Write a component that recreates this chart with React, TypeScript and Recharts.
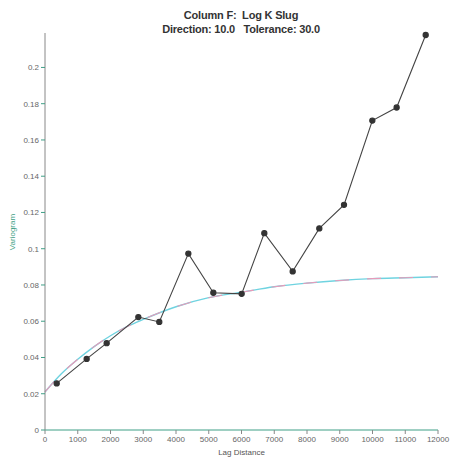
import React from 'react';
import { LineChart, Line, XAxis, YAxis } from 'recharts';

// Experimental variogram points (lag distance, semivariance)
const lags = [357, 1272, 1883, 2850, 3490, 4377, 5140, 6005, 6697, 7563, 8376, 9130, 9995, 10737, 11624];
const gammas = [0.0257, 0.0392, 0.0479, 0.0623, 0.0596, 0.0973, 0.0757, 0.0751, 0.1086, 0.0875, 0.1112, 0.1242, 0.1707, 0.1779, 0.2179];

// Fitted model curve, read at fixed lag steps
const modelLags = [0, 500, 1000, 1500, 2000, 2500, 3000, 4000, 5000, 6000, 7000, 8000, 9000, 10000, 11000, 12000];
const modelGammas = [0.021, 0.031, 0.039, 0.046, 0.052, 0.057, 0.061, 0.068, 0.073, 0.076, 0.079, 0.081, 0.0825, 0.0835, 0.084, 0.0845];

const xTicks = [0, 1000, 2000, 3000, 4000, 5000, 6000, 7000, 8000, 9000, 10000, 11000, 12000];
const yTicks = [0, 0.02, 0.04, 0.06, 0.08, 0.1, 0.12, 0.14, 0.16, 0.18, 0.2];

const points = lags.map((lag, i) => ({ lag, gamma: gammas[i] }));
const model = modelLags.map((lag, i) => ({ lag, gamma: modelGammas[i] }));

const FONT = '"Liberation Sans", Arial, sans-serif';
const TEAL = '#3f9f86';

export default function App() {
  return (
    <div style={{ position: 'absolute', left: 0, top: 0, width: 451, height: 460, background: '#fff', fontFamily: FONT }}>
      <div
        style={{
          position: 'absolute',
          left: 0,
          width: 482,
          top: 8,
          textAlign: 'center',
          fontWeight: 'bold',
          fontSize: 11,
          lineHeight: '14px',
          color: '#333',
          letterSpacing: -0.2,
        }}
      >
        <div>Column F:&nbsp; Log K Slug</div>
        <div>Direction: 10.0&nbsp;&nbsp; Tolerance: 30.0</div>
      </div>
      <div
        style={{
          position: 'absolute',
          left: 12,
          top: 232,
          transform: 'translate(-50%, -50%) rotate(-90deg)',
          fontSize: 8,
          color: TEAL,
          whiteSpace: 'nowrap',
        }}
      >
        Variogram
      </div>
      <LineChart width={451} height={460} margin={{ top: 33, right: 13, bottom: 10, left: 10 }}>
        <XAxis
          type="number"
          dataKey="lag"
          domain={[0, 12000]}
          ticks={xTicks}
          height={20}
          stroke={TEAL}
          tickSize={4}
          tick={{ fontSize: 8, fill: '#666', fontFamily: FONT }}
          tickLine={{ stroke: '#888' }}
          label={{ value: 'Lag Distance', position: 'insideBottom', offset: -5, style: { fontSize: 8, fill: '#555', fontFamily: FONT } }}
        />
        <YAxis
          type="number"
          dataKey="gamma"
          domain={[0, 0.219]}
          ticks={yTicks}
          width={35}
          stroke="#888"
          tickSize={4}
          tick={{ fontSize: 8, fill: '#666', fontFamily: FONT }}
          tickLine={{ stroke: TEAL }}
        />
        <Line
          data={model}
          dataKey="gamma"
          type="monotone"
          stroke="#6fd3e0"
          strokeWidth={1.4}
          dot={false}
          isAnimationActive={false}
        />
        <Line
          data={model}
          dataKey="gamma"
          type="monotone"
          stroke="#e89ab8"
          strokeWidth={1.1}
          strokeDasharray="14 18"
          dot={false}
          isAnimationActive={false}
        />
        <Line
          data={points}
          dataKey="gamma"
          type="linear"
          stroke="#444"
          strokeWidth={1.1}
          dot={{ r: 2.6, fill: '#333', stroke: '#333' }}
          isAnimationActive={false}
        />
      </LineChart>
    </div>
  );
}
